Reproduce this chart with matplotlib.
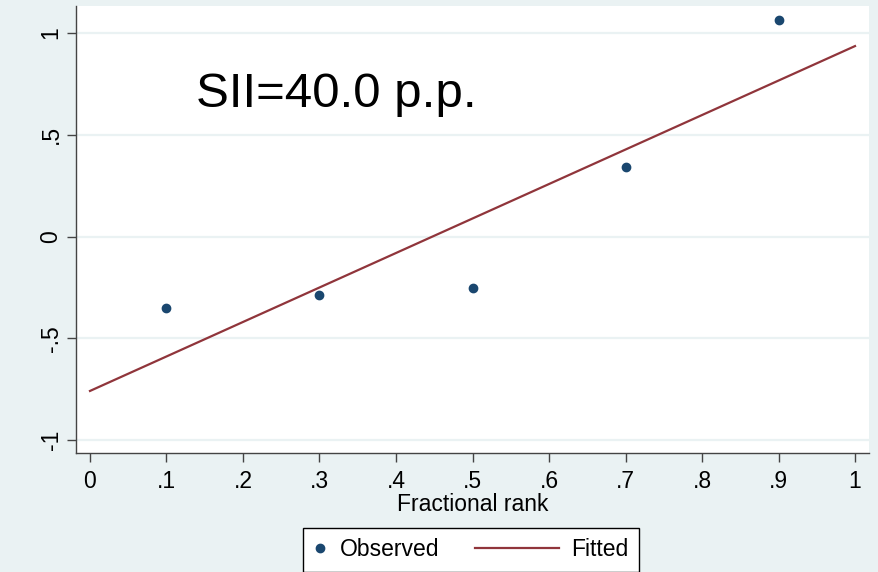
import matplotlib
matplotlib.use("Agg")
import matplotlib.pyplot as plt
from matplotlib.legend_handler import HandlerLine2D

# ---- data ----
rank = [0.1, 0.3, 0.5, 0.7, 0.9]
observed = [-0.351, -0.288, -0.253, 0.342, 1.064]
fitted_x = [0.0, 1.0]
fitted_y = [-0.759, 0.936]
xticks = [0, .1, .2, .3, .4, .5, .6, .7, .8, .9, 1]
xticklabels = ["0", ".1", ".2", ".3", ".4", ".5", ".6", ".7", ".8", ".9", "1"]
yticks = [-1, -0.5, 0, 0.5, 1]
yticklabels = ["-1", "-.5", "0", ".5", "1"]
annotation = "SII=40.0 p.p."

BG = "#EAF2F3"
NAVY = "#1A476F"
MAROON = "#90353B"
FS = 16.5

plt.rcParams["font.family"] = ["Liberation Sans", "DejaVu Sans"]

W, H = 879, 572
fig = plt.figure(figsize=(W / 100, H / 100), dpi=100, facecolor=BG)
ax = fig.add_axes([76 / W, (H - 453) / H, (869 - 76) / W, (453 - 6) / H])
ax.set_facecolor("white")

ax.set_xlim(-0.0183, 1.0183)
ax.set_ylim(-1.064, 1.133)

for s in ["top", "right"]:
    ax.spines[s].set_visible(False)
for s in ["left", "bottom"]:
    ax.spines[s].set_color("#444444")
    ax.spines[s].set_linewidth(1.0)

ax.set_yticks(yticks)
ax.set_yticklabels(yticklabels, rotation=90, va="center")
ax.set_xticks(xticks)
ax.set_xticklabels(xticklabels)
ax.tick_params(axis="both", direction="out", length=6.5, width=1, color="#444444",
               labelsize=FS, labelcolor="black")
ax.tick_params(axis="y", pad=3.2)
ax.tick_params(axis="x", pad=6.0)

ax.yaxis.grid(True, color=BG, linewidth=1.6)
ax.xaxis.grid(False)
ax.set_axisbelow(True)

obs, = ax.plot(rank, observed, "o", color=NAVY, markersize=6.0, linestyle="none",
               label="Observed", zorder=3)
fit, = ax.plot(fitted_x, fitted_y, "-", color=MAROON, linewidth=1.6,
               label="Fitted", zorder=2)

ax.text(0.139, 0.636, annotation, fontsize=35.5, color="black",
        ha="left", va="baseline")

ax.set_xlabel("Fractional rank", fontsize=FS, labelpad=0)


class WideLine(HandlerLine2D):
    def create_artists(self, legend, orig_handle, xdescent, ydescent, width,
                       height, fontsize, trans):
        ext = 5.1 * width
        return super().create_artists(legend, orig_handle, xdescent + ext,
                                      ydescent, width + ext, height, fontsize,
                                      trans)


leg = fig.legend([obs, fit], ["Observed", "Fitted"], ncol=2,
                 loc="upper left", bbox_to_anchor=(303 / W, 1 - 528 / H),
                 fontsize=FS, frameon=True, fancybox=False, shadow=False,
                 framealpha=1, edgecolor="black", facecolor="white",
                 handlelength=0.6, handletextpad=0.56, columnspacing=4.6,
                 borderpad=0.45, borderaxespad=0, numpoints=1,
                 handler_map={fit: WideLine()})
leg.get_frame().set_linewidth(1.0)

fig.savefig("out.png", dpi=100, facecolor=BG)
